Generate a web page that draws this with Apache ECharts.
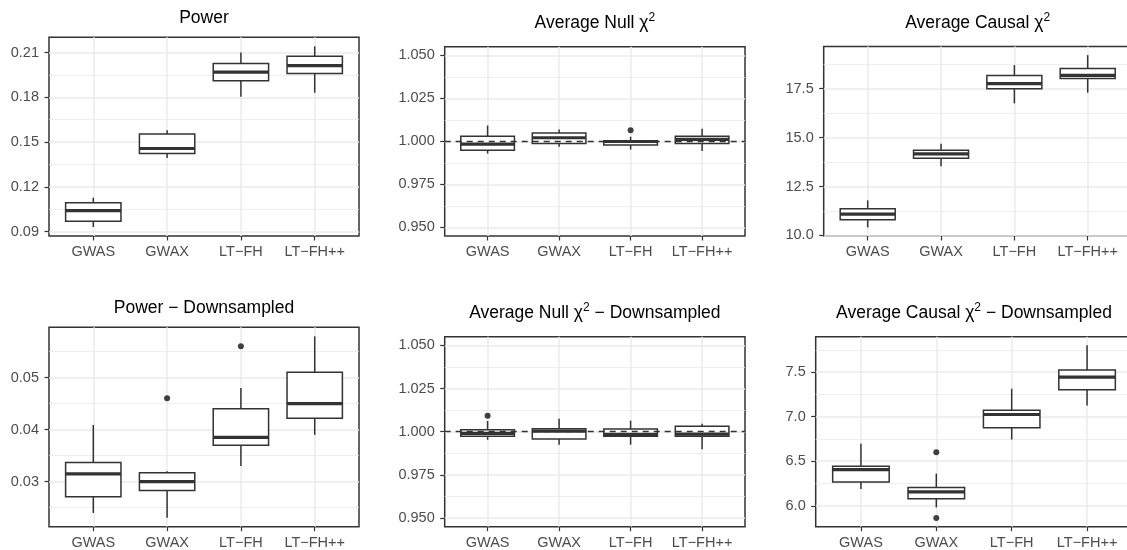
<!DOCTYPE html>
<html>
<head>
<meta charset="utf-8">
<script src="https://cdn.jsdelivr.net/npm/echarts@6/dist/echarts.min.js"></script>
<style>
  html, body { margin: 0; padding: 0; background: #ffffff; }
  #chart { width: 1127px; height: 550px; }
</style>
</head>
<body>
<div id="chart"></div>
<script>
// methods on the x axis
const methods = ['GWAS', 'GWAX', 'LT−FH', 'LT−FH++'];

// box stats per method: [lower whisker, Q1, median, Q3, upper whisker]
const powerBox = [
  [0.0931, 0.0969, 0.1040, 0.1093, 0.1127],
  [0.1393, 0.1424, 0.1457, 0.1555, 0.1580],
  [0.1804, 0.1911, 0.1969, 0.2027, 0.2100],
  [0.1831, 0.1960, 0.2013, 0.2075, 0.2142]
];
const powerOut = [];

const nullBox = [
  [0.9929, 0.9948, 0.9984, 1.0029, 1.0092],
  [0.9969, 0.9988, 1.0021, 1.0048, 1.0069],
  [0.9952, 0.9979, 0.9999, 1.0004, 1.0027],
  [0.9944, 0.9988, 1.0012, 1.0029, 1.0073]
];
const nullOut = [[2, 1.0065]]; // [method index, value]

const causalBox = [
  [10.41, 10.80, 11.09, 11.36, 11.79],
  [13.54, 13.94, 14.17, 14.35, 14.69],
  [16.75, 17.50, 17.76, 18.18, 18.71],
  [17.30, 18.03, 18.18, 18.54, 19.22]
];
const causalOut = [];

const powerDsBox = [
  [0.0240, 0.0271, 0.0315, 0.0337, 0.0409],
  [0.0231, 0.0283, 0.0300, 0.0317, 0.0320],
  [0.0330, 0.0370, 0.0385, 0.0440, 0.0480],
  [0.0390, 0.0422, 0.0450, 0.0510, 0.0579]
];
const powerDsOut = [[1, 0.0460], [2, 0.0560]];

const nullDsBox = [
  [0.9953, 0.9973, 0.9990, 1.0012, 1.0062],
  [0.9925, 0.9958, 1.0003, 1.0017, 1.0075],
  [0.9925, 0.9973, 0.9984, 1.0015, 1.0064],
  [0.9898, 0.9973, 0.9986, 1.0032, 1.0046]
];
const nullDsOut = [[0, 1.0092]];

const causalDsBox = [
  [6.188, 6.267, 6.406, 6.443, 6.695],
  [5.981, 6.079, 6.155, 6.206, 6.361],
  [6.743, 6.875, 7.024, 7.073, 7.313],
  [7.125, 7.302, 7.444, 7.522, 7.800]
];
const causalDsOut = [[1, 6.600], [1, 5.862]];

// y tick labels
const powerTicks = ['0.09', '0.12', '0.15', '0.18', '0.21'];
const nullTicks = ['0.950', '0.975', '1.000', '1.025', '1.050'];
const causalTicks = ['10.0', '12.5', '15.0', '17.5'];
const powerDsTicks = ['0.03', '0.04', '0.05'];
const causalDsTicks = ['6.0', '6.5', '7.0', '7.5'];

const FONT = "'Liberation Sans', Arial, Helvetica, sans-serif";
const INK = '#333333';

// panel layout (pixels) + which data goes where
const panels = [
  { title: 'Power', box: powerBox, out: powerOut, ticks: powerTicks,
    rect: [49, 37.3, 310, 198.7], ty: 7.5 },
  { title: 'Average Null {g|χ}{s|2}', box: nullBox, out: nullOut, ticks: nullTicks,
    limits: [0.95, 1.05], ref: 1, rect: [444.7, 46.7, 300.3, 189.3], ty: 12 },
  { title: 'Average Causal {g|χ}{s|2}', box: causalBox, out: causalOut, ticks: causalTicks,
    rect: [823.7, 46.5, 308, 189.5], ty: 12 },
  { title: 'Power − Downsampled', box: powerDsBox, out: powerDsOut, ticks: powerDsTicks,
    rect: [49, 327.3, 310, 199.4], ty: 297 },
  { title: 'Average Null {g|χ}{s|2} − Downsampled', box: nullDsBox, out: nullDsOut, ticks: nullTicks,
    limits: [0.95, 1.05], ref: 1, rect: [444.7, 336.7, 300.3, 190], ty: 302 },
  { title: 'Average Causal {g|χ}{s|2} − Downsampled', box: causalDsBox, out: causalDsOut, ticks: causalDsTicks,
    rect: [815.7, 336.7, 316.6, 190], ty: 302 }
];

// ggplot-like continuous range: data (or limits) expanded by 5%
function yRange(p) {
  let lo, hi;
  if (p.limits) {
    lo = p.limits[0]; hi = p.limits[1];
  } else {
    const vals = [];
    p.box.forEach(b => vals.push(...b));
    p.out.forEach(o => vals.push(o[1]));
    lo = Math.min(...vals); hi = Math.max(...vals);
  }
  const pad = (hi - lo) * 0.05;
  return [lo - pad, hi + pad];
}

// minor grid values halfway between major ticks
function minorValues(ticks, range) {
  const t = ticks.map(Number);
  const step = t[1] - t[0];
  const res = [];
  for (let v = t[0] - step / 2; v <= t[t.length - 1] + step; v += step) {
    if (v > range[0] && v < range[1]) res.push(v);
  }
  return res;
}

function renderBox(params, api) {
  const x = api.value(0);
  const lo = api.coord([x, api.value(1)]);
  const q1 = api.coord([x, api.value(2)]);
  const md = api.coord([x, api.value(3)]);
  const q3 = api.coord([x, api.value(4)]);
  const hi = api.coord([x, api.value(5)]);
  const half = api.size([0.75, 0])[0] / 2;
  const cx = md[0];
  const line = { stroke: INK, lineWidth: 1.5 };
  return {
    type: 'group',
    children: [
      { type: 'line', shape: { x1: cx, y1: hi[1], x2: cx, y2: q3[1] }, style: line },
      { type: 'line', shape: { x1: cx, y1: q1[1], x2: cx, y2: lo[1] }, style: line },
      { type: 'rect', shape: { x: cx - half, y: q3[1], width: half * 2, height: q1[1] - q3[1] },
        style: { fill: '#ffffff', stroke: INK, lineWidth: 1.5 } },
      { type: 'line', shape: { x1: cx - half, y1: md[1], x2: cx + half, y2: md[1] },
        style: { stroke: INK, lineWidth: 3.2 } }
    ]
  };
}

const option = {
  animation: false,
  backgroundColor: '#ffffff',
  title: [], grid: [], xAxis: [], yAxis: [], series: []
};

panels.forEach((p, i) => {
  const range = yRange(p);
  const tickVals = p.ticks.map(Number);
  const minors = minorValues(p.ticks, range);
  const [left, top, width, height] = p.rect;

  option.title.push({
    text: p.title,
    left: left + width / 2,
    top: p.ty,
    textAlign: 'center',
    padding: 0,
    textStyle: {
      fontFamily: FONT, fontSize: 17.5, fontWeight: 'normal', color: '#000000', lineHeight: 22,
      rich: {
        g: { fontFamily: FONT, fontSize: 17.5, color: '#000000', lineHeight: 22 },
        s: { fontFamily: FONT, fontSize: 12, color: '#000000', verticalAlign: 'top', lineHeight: 12 }
      }
    }
  });

  option.grid.push({
    left: left, top: top, width: width, height: height,
    show: true, borderColor: INK, borderWidth: 1.5, backgroundColor: 'transparent',
    containLabel: false, outerBoundsMode: 'none'
  });

  option.xAxis.push({
    type: 'value', gridIndex: i, min: -0.6, max: 3.6, position: 'bottom',
    axisLine: { show: false, onZero: false },
    axisTick: { show: true, customValues: [0, 1, 2, 3], length: 4.5, lineStyle: { color: INK, width: 1.2 } },
    axisLabel: {
      customValues: [0, 1, 2, 3], margin: 8.5,
      fontFamily: FONT, fontSize: 14.5, color: '#4d4d4d',
      formatter: v => methods[Math.round(v)]
    },
    splitLine: { show: true, lineStyle: { color: '#ebebeb', width: 1.5 } }
  });

  // major y axis
  option.yAxis.push({
    type: 'value', gridIndex: i, min: range[0], max: range[1], position: 'left',
    axisLine: { show: false, onZero: false },
    axisTick: { show: true, customValues: tickVals, length: 4.5, lineStyle: { color: INK, width: 1.2 } },
    axisLabel: {
      customValues: tickVals, margin: 10,
      fontFamily: FONT, fontSize: 14.5, color: '#4d4d4d',
      formatter: v => {
        const k = tickVals.findIndex(t => Math.abs(t - v) < 1e-9);
        return k >= 0 ? p.ticks[k] : '';
      }
    },
    splitLine: { show: true, lineStyle: { color: '#ebebeb', width: 1.5 } }
  });
  // minor y grid lines
  option.yAxis.push({
    type: 'value', gridIndex: i, min: range[0], max: range[1], position: 'left',
    axisLine: { show: false, onZero: false },
    axisTick: { show: false, customValues: minors },
    axisLabel: { show: false, customValues: minors },
    splitLine: { show: true, lineStyle: { color: '#ebebeb', width: 0.8 } }
  });

  const boxSeries = {
    type: 'custom',
    xAxisIndex: i, yAxisIndex: 2 * i,
    renderItem: renderBox,
    encode: { x: 0, y: [1, 2, 3, 4, 5] },
    data: p.box.map((b, k) => [k, ...b]),
    z: 2, silent: true
  };
  if (p.ref !== undefined) {
    boxSeries.markLine = {
      silent: true, symbol: 'none', label: { show: false },
      lineStyle: { color: INK, width: 1.3, type: [6, 5] },
      data: [{ yAxis: p.ref }]
    };
  }
  option.series.push(boxSeries);

  option.series.push({
    type: 'scatter',
    xAxisIndex: i, yAxisIndex: 2 * i,
    symbolSize: 6,
    itemStyle: { color: '#111111' },
    data: p.out,
    z: 3, silent: true
  });
});

const chart = echarts.init(document.getElementById('chart'), null, { renderer: 'canvas' });
chart.setOption(option);
</script>
</body>
</html>
